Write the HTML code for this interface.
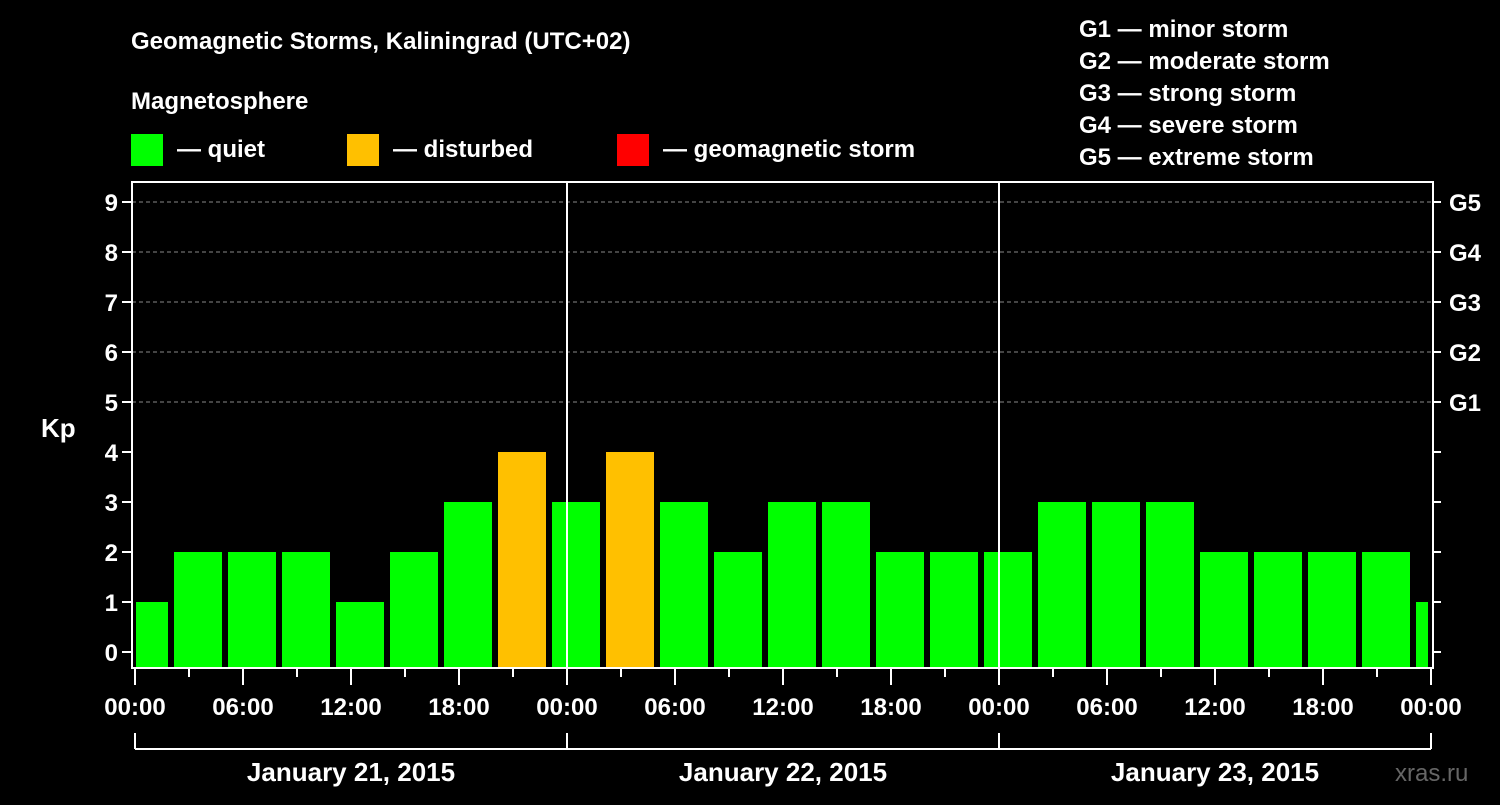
<!DOCTYPE html>
<html><head><meta charset="utf-8"><style>
body{margin:0;background:#000;width:1500px;height:800px;overflow:hidden}
svg text{font-family:"Liberation Sans",sans-serif;font-weight:bold;fill:#fff}
</style></head><body>
<svg id="chart" width="1500" height="800" xmlns="http://www.w3.org/2000/svg">
<rect width="1500" height="800" fill="#000"/>
<text x="131" y="49" font-size="24">Geomagnetic Storms, Kaliningrad (UTC+02)</text>
<text x="131" y="109" font-size="24">Magnetosphere</text>
<rect x="131" y="134" width="32" height="32" fill="#00ff00"/>
<text x="177" y="157" font-size="24">— quiet</text>
<rect x="347" y="134" width="32" height="32" fill="#ffc000"/>
<text x="393" y="157" font-size="24">— disturbed</text>
<rect x="617" y="134" width="32" height="32" fill="#ff0000"/>
<text x="663" y="157" font-size="24">— geomagnetic storm</text>
<g font-size="24">
<text x="1079" y="37">G1 — minor storm</text>
<text x="1079" y="69">G2 — moderate storm</text>
<text x="1079" y="101">G3 — strong storm</text>
<text x="1079" y="133">G4 — severe storm</text>
<text x="1079" y="165">G5 — extreme storm</text>
</g>
<text x="41" y="437" font-size="26">Kp</text>
<text x="1395" y="781" font-size="24" fill="#555" style="fill:#666;font-weight:normal">xras.ru</text>
<g id="grid"></g><g id="bars"></g><g id="axes"></g>
</svg>
<script>
const kpValues=[1,2,2,2,1,2,3,4,3,4,3,2,3,3,2,2,2,3,3,3,2,2,2,2,1];
const yTicks=[0,1,2,3,4,5,6,7,8,9];
const gLabels=["G1","G2","G3","G4","G5"];
const xTickLabels=["00:00","06:00","12:00","18:00","00:00","06:00","12:00","18:00","00:00","06:00","12:00","18:00","00:00"];
const dayLabels=["January 21, 2015","January 22, 2015","January 23, 2015"];
const firstBlockHour=-1, blockHours=3, totalHours=72;
const NS="http://www.w3.org/2000/svg";
const X0=135,PX=18,L=132,R=1431,T=182,B=668;
const xs=h=>X0+h*PX, ys=v=>652-v*50;
function mk(tag,attrs,parent){const e=document.createElementNS(NS,tag);for(const k in attrs)e.setAttribute(k,attrs[k]);parent.appendChild(e);return e;}
const grid=document.getElementById('grid'),bars=document.getElementById('bars'),axes=document.getElementById('axes');
yTicks.forEach(v=>{if(v>=5){const l=mk('line',{x1:L,x2:R,y1:ys(v),y2:ys(v),stroke:'#888','stroke-dasharray':'4,3','stroke-width':1},grid);

}});
kpValues.forEach((v,i)=>{const h0=firstBlockHour+i*blockHours;let x1=xs(h0)+3,x2=xs(h0+blockHours)-3;x1=Math.max(x1,L+4);x2=Math.min(x2,R-3);
const col=v>=5?'#ff0000':(v>=4?'#ffc000':'#00ff00');
const r=mk('rect',{x:x1,y:ys(v),width:x2-x1,height:B-1-ys(v),fill:col},bars);

});
// frame
const fr=mk('rect',{x:L,y:T,width:R-L+2,height:B-T,fill:'none',stroke:'#fff','stroke-width':2},axes);


[24,48].forEach(h=>{const l=mk('line',{x1:xs(h),x2:xs(h),y1:T,y2:B,stroke:'#fff','stroke-width':2},axes);

});
yTicks.forEach(v=>{mk('line',{x1:L-10,x2:L,y1:ys(v),y2:ys(v),stroke:'#fff','stroke-width':2},axes);
mk('line',{x1:R+2,x2:R+10,y1:ys(v),y2:ys(v),stroke:'#fff','stroke-width':2},axes);
const t=mk('text',{x:L-14,y:ys(v)+9,'font-size':24,'text-anchor':'end'},axes);t.textContent=v;

});
gLabels.forEach((g,i)=>{const t=mk('text',{x:1449,y:ys(5+i)+9,'font-size':24},axes);t.textContent=g;

});
for(let h=0;h<=totalHours;h+=3){const major=h%6===0;mk('line',{x1:xs(h),x2:xs(h),y1:B+1,y2:B+(major?17:9),stroke:'#fff','stroke-width':2},axes);}
xTickLabels.forEach((s,i)=>{const t=mk('text',{x:xs(i*6),y:715,'font-size':24,'text-anchor':'middle'},axes);t.textContent=s;

});
mk('line',{x1:xs(0),x2:xs(72),y1:749,y2:749,stroke:'#fff','stroke-width':2},axes);
[0,24,48,72].forEach(h=>mk('line',{x1:xs(h),x2:xs(h),y1:733,y2:749,stroke:'#fff','stroke-width':2},axes));
dayLabels.forEach((s,i)=>{const t=mk('text',{x:xs(i*24+12),y:781,'font-size':26,'text-anchor':'middle'},axes);t.textContent=s;

});
</script>
</body></html>
